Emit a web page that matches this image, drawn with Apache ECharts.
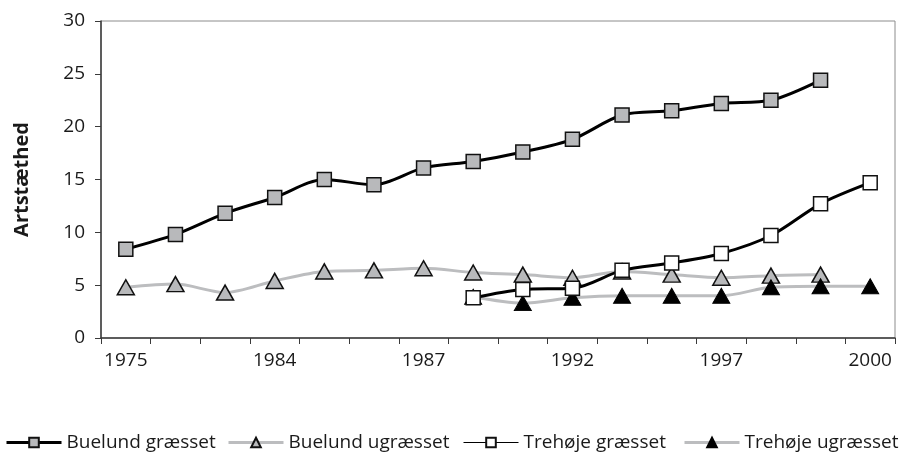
<!DOCTYPE html>
<html>
<head>
<meta charset="utf-8">
<script src="https://cdn.jsdelivr.net/npm/echarts@6/dist/echarts.min.js"></script>
<style>
  html, body { margin: 0; padding: 0; background: #fff; }
  #chart { width: 899px; height: 455px; }
</style>
</head>
<body>
<div id="chart"></div>
<script>
// Sixteen sampling rounds; only every third one carries a year label.
const yearLabels = ['1975', '', '', '1984', '', '', '1987', '', '', '1992', '', '', '1997', '', '', '2000'];

// Species density per plot (null = not sampled)
const buelundGraesset  = [8.4, 9.8, 11.8, 13.3, 15.0, 14.5, 16.1, 16.7, 17.6, 18.8, 21.1, 21.5, 22.2, 22.5, 24.4, null];
const buelundUgraesset = [4.8, 5.1, 4.3, 5.4, 6.3, 6.4, 6.6, 6.2, 6.0, 5.7, 6.3, 6.0, 5.7, 5.9, 6.0, null];
const trehojeGraesset  = [null, null, null, null, null, null, null, 3.8, 4.6, 4.7, 6.4, 7.1, 8.0, 9.7, 12.7, 14.7];
const trehojeUgraesset = [null, null, null, null, null, null, null, 3.9, 3.3, 3.8, 4.0, 4.0, 4.0, 4.8, 4.9, 4.9];

const seriesNames = ['Buelund græsset', 'Buelund ugræsset', 'Trehøje græsset', 'Trehøje ugræsset'];

const FONT = 'Open Sans';
const TEXT = '#1a1a1a';

const chart = echarts.init(document.getElementById('chart'), null, { renderer: 'canvas' });

function legendAt(left, name, lineWidth) {
  return {
    left: left,
    top: 433,
    padding: 0,
    itemWidth: 55,
    itemHeight: 12,
    itemGap: 0,
    textStyle: { fontFamily: FONT, fontSize: 19, color: TEXT },
    selectedMode: false,
    data: [{ name: name, lineStyle: { width: lineWidth } }]
  };
}

chart.setOption({
  animation: false,
  backgroundColor: '#ffffff',
  grid: {
    left: 101, right: 4, top: 21, bottom: 117,
    show: true, borderColor: '#8c8c8c', borderWidth: 1
  },
  legend: [
    legendAt(5, seriesNames[0], 3),
    legendAt(227, seriesNames[1], 3),
    legendAt(463, seriesNames[2], 1),
    legendAt(683, seriesNames[3], 3)
  ],
  xAxis: {
    type: 'category',
    data: yearLabels,
    boundaryGap: true,
    axisLine: { lineStyle: { color: '#3a3a3a', width: 1.5 } },
    axisTick: { show: true, interval: 0, length: 6, lineStyle: { color: '#3a3a3a', width: 1 } },
    axisLabel: { interval: 0, margin: 13, fontFamily: FONT, fontSize: 19, color: TEXT },
    splitLine: { show: false }
  },
  yAxis: {
    type: 'value',
    min: 0, max: 30, interval: 5,
    name: 'Artstæthed',
    nameLocation: 'middle',
    nameGap: 69,
    nameTextStyle: { fontFamily: FONT, fontSize: 20, fontWeight: 'bold', color: TEXT },
    axisLine: { show: true, lineStyle: { color: '#3a3a3a', width: 1.5 } },
    axisTick: { show: true, length: 6, lineStyle: { color: '#3a3a3a', width: 1 } },
    axisLabel: { margin: 16, fontFamily: FONT, fontSize: 19, color: TEXT },
    splitLine: { show: false }
  },
  series: [
    {
      name: seriesNames[0], type: 'line', data: buelundGraesset,
      smooth: 0.3, symbol: 'rect', symbolSize: 14,
      lineStyle: { color: '#000', width: 3 },
      itemStyle: { color: '#b8b9bb', borderColor: '#111', borderWidth: 1.5 },
      z: 4
    },
    {
      name: seriesNames[1], type: 'line', data: buelundUgraesset,
      smooth: 0.3, symbol: 'triangle', symbolSize: [17, 15],
      lineStyle: { color: '#bcbdbf', width: 3 },
      itemStyle: { color: '#b8b9bb', borderColor: '#111', borderWidth: 1.5 },
      z: 2
    },
    {
      name: seriesNames[2], type: 'line', data: trehojeGraesset,
      smooth: 0.3, symbol: 'rect', symbolSize: 14,
      lineStyle: { color: '#000', width: 3 },
      itemStyle: { color: '#ffffff', borderColor: '#111', borderWidth: 1.5 },
      z: 5
    },
    {
      name: seriesNames[3], type: 'line', data: trehojeUgraesset,
      smooth: 0.3, symbol: 'triangle', symbolSize: [17, 15],
      lineStyle: { color: '#bcbdbf', width: 3 },
      itemStyle: { color: '#000', borderColor: '#000', borderWidth: 1 },
      z: 3
    }
  ]
});
</script>
</body>
</html>
